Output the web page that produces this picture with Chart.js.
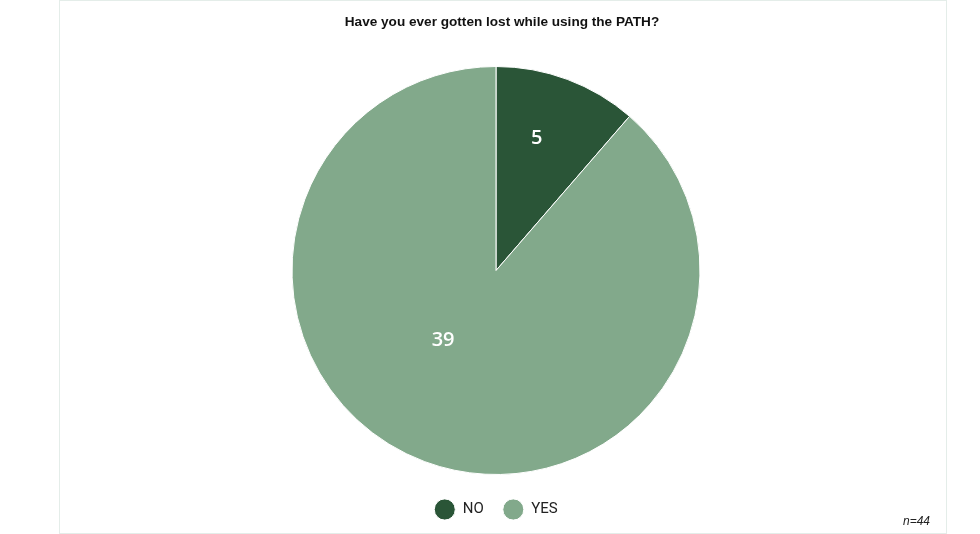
<!DOCTYPE html>
<html>
<head>
<meta charset="utf-8">
<script src="https://cdn.jsdelivr.net/npm/chart.js@4"></script>
<style>
  html, body { margin: 0; padding: 0; background: #fff; }
  #wrap { position: relative; width: 980px; height: 534px; }
  #frame { position: absolute; left: 59px; top: 0; width: 886px; height: 532px; border: 1px solid #e4ede9; }
  #title { position: absolute; left: 59px; top: 14px; width: 886px; text-align: center;
           font: bold 13.6px "Liberation Sans", Arial, sans-serif; color: #111; }
  #note { position: absolute; left: 880px; top: 514px; width: 50px; text-align: right;
          font: italic 12px "Liberation Sans", Arial, sans-serif; color: #222; }
  canvas { position: absolute; left: 0; top: 0; }
</style>
</head>
<body>
<div id="wrap">
  <div id="frame"></div>
  <canvas id="myChart" width="980" height="534"></canvas>
  <div id="title">Have you ever gotten lost while using the PATH?</div>
  <div id="note">n=44</div>
</div>
<script>
const categories = ['NO', 'YES'];
const counts = [5, 39];
const sliceColors = ['#2a5537', '#82a98b'];

// numbers drawn inside the slices
const sliceLabels = {
    id: 'sliceLabels',
    afterDatasetsDraw(chart) {
        const ctx = chart.ctx;
        const meta = chart.getDatasetMeta(0);
        ctx.save();
        ctx.fillStyle = '#fff';
        ctx.font = '600 20px "Open Sans", sans-serif';
        ctx.textAlign = 'center';
        ctx.textBaseline = 'middle';
        meta.data.forEach((arc, i) => {
            const p = arc.getProps(['x', 'y', 'startAngle', 'endAngle', 'outerRadius']);
            const mid = (p.startAngle + p.endAngle) / 2;
            const f = i === 0 ? 0.68 : 0.43;
            const shift = i === 0 ? -0.06 : 0.29;
            ctx.fillText(String(counts[i]),
                p.x + Math.cos(mid + shift) * p.outerRadius * f,
                p.y + Math.sin(mid + shift) * p.outerRadius * f);
        });
        ctx.restore();
    }
};

const ctx = document.getElementById('myChart');
new Chart(ctx, {
    type: 'pie',
    plugins: [sliceLabels],
    data: {
        labels: categories,
        datasets: [{
            data: counts,
            backgroundColor: sliceColors,
            borderColor: '#fff',
            borderWidth: 1,
            radius: 204
        }]
    },
    options: {
        responsive: false,
        animation: false,
        layout: { padding: { left: 12, right: 0, top: 58, bottom: 7 } },
        plugins: {
            title: { display: false },
            legend: {
                position: 'bottom',
                labels: {
                    usePointStyle: true,
                    pointStyle: 'circle',
                    pointStyleWidth: 21,
                    padding: 19,
                    color: '#222',
                    font: { family: 'Roboto, sans-serif', size: 15 }
                }
            },
            tooltip: { enabled: false }
        }
    }
});
</script>
</body>
</html>
